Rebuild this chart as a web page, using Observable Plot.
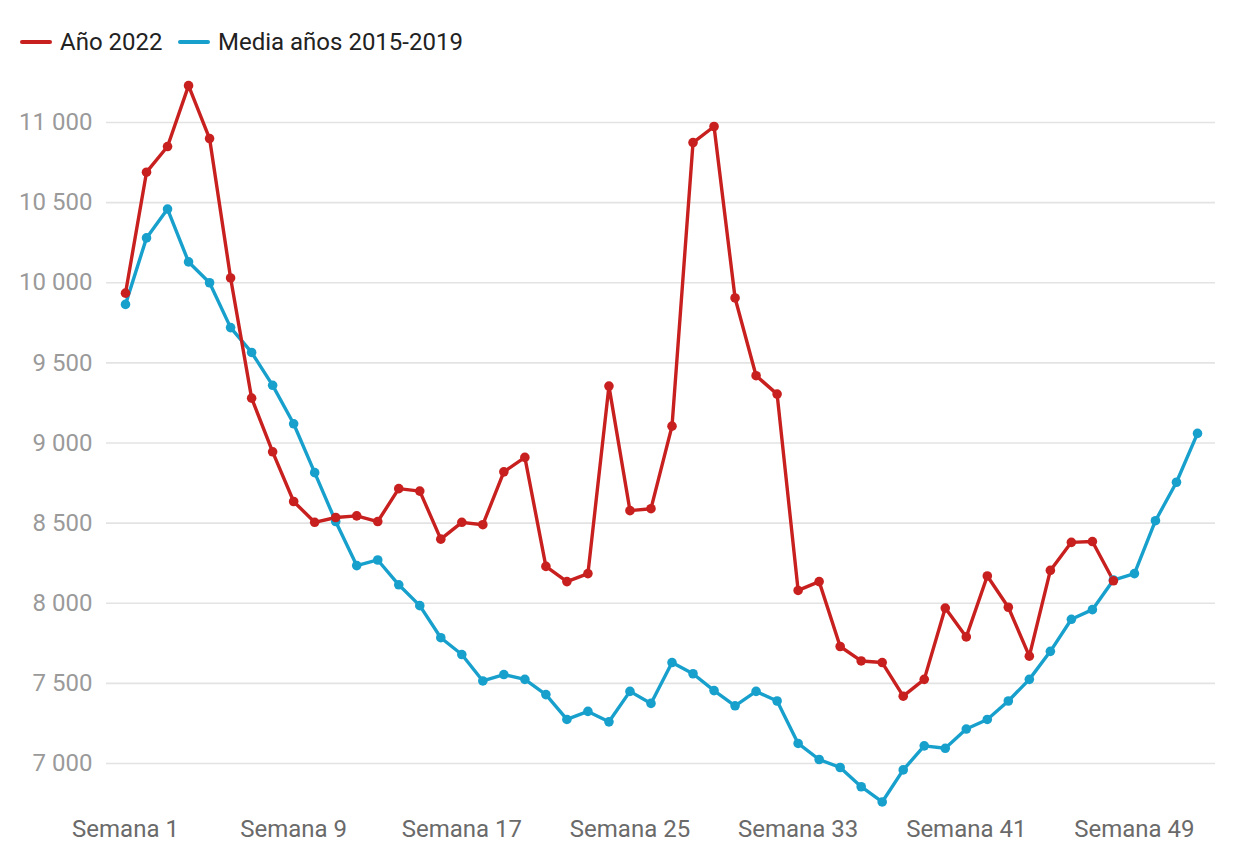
<!DOCTYPE html>
<html>
<head>
<meta charset="utf-8">
<script src="https://cdn.jsdelivr.net/npm/d3@7"></script>
<script src="https://cdn.jsdelivr.net/npm/@observablehq/plot@0.6"></script>
<style>
  html, body { margin: 0; padding: 0; background: #fff; }
  body { width: 1240px; height: 862px; overflow: hidden; font-family: Roboto, "Noto Sans", sans-serif; }
  #legend { height: 80px; position: relative; }
  .item { position: absolute; top: 28px; height: 28px; line-height: 28px; display: flex; align-items: center; font-size: 24px; color: #222; }
  .sw { width: 32px; height: 4px; border-radius: 2px; margin-right: 8px; }
</style>
</head>
<body>
<div id="legend">
  <div class="item" style="left:20px"><span class="sw" style="background:#c8201f"></span>Año 2022</div>
  <div class="item" style="left:178px"><span class="sw" style="background:#18a0cd"></span>Media años 2015-2019</div>
</div>
<div id="chart"></div>
<script>
const weeks = d3.range(1, 53);
const year2022 = [9935, 10690, 10850, 11230, 10900, 10030, 9280, 8945, 8635, 8505,
  8535, 8545, 8510, 8715, 8700, 8400, 8505, 8490, 8820, 8910,
  8230, 8135, 8185, 9355, 8578, 8590, 9105, 10875, 10975, 9905,
  9420, 9305, 8080, 8135, 7730, 7640, 7630, 7420, 7525, 7970,
  7790, 8170, 7975, 7670, 8205, 8380, 8385, 8140];
const media = [9865, 10280, 10460, 10130, 10000, 9720, 9565, 9360, 9120, 8815,
  8510, 8235, 8270, 8115, 7985, 7785, 7680, 7515, 7555, 7525,
  7430, 7275, 7325, 7260, 7450, 7375, 7630, 7560, 7455, 7360,
  7450, 7390, 7125, 7025, 6975, 6855, 6760, 6960, 7110, 7095,
  7215, 7275, 7390, 7525, 7700, 7900, 7960, 8145, 8185, 8515,
  8755, 9060];
const xTicks = [1, 9, 17, 25, 33, 41, 49];
const yTicks = [7000, 7500, 8000, 8500, 9000, 9500, 10000, 10500, 11000];
const seriesNames = ["Año 2022", "Media años 2015-2019"];
const colors = ["#c8201f", "#18a0cd"];

const rows = [];
media.forEach((v, i) => rows.push({week: weeks[i], value: v, serie: seriesNames[1]}));
year2022.forEach((v, i) => rows.push({week: weeks[i], value: v, serie: seriesNames[0]}));

const fmt = d => String(d).replace(/\B(?=(\d{3})+(?!\d))/g, " ");

const chart = Plot.plot({
  width: 1240,
  height: 782,
  marginLeft: 106,
  marginRight: 25,
  marginTop: 0,
  marginBottom: 50,
  style: {fontFamily: "Roboto, sans-serif", background: "#fff"},
  x: {domain: [1, 52], range: [125, 1197]},
  y: {domain: [7000, 11000], range: [683, 42]},
  color: {domain: seriesNames, range: colors},
  marks: [
    Plot.gridY(yTicks, {stroke: "#e3e3e3", strokeOpacity: 1, strokeWidth: 1.6}),
    Plot.axisY(yTicks, {tickSize: 0, tickPadding: 14, tickFormat: fmt, fontSize: 24, fill: "#9a9a9a", label: null}),
    Plot.axisX(xTicks, {tickSize: 0, tickPadding: 7, tickFormat: d => `Semana ${d}`, fontSize: 24, fill: "#6a6a6a", label: null}),
    Plot.line(rows, {x: "week", y: "value", z: "serie", stroke: "serie", strokeWidth: 3.4, strokeLinejoin: "round"}),
    Plot.dot(rows, {x: "week", y: "value", fill: "serie", r: 4.8})
  ]
});
document.getElementById("chart").appendChild(chart);
</script>
</body>
</html>
